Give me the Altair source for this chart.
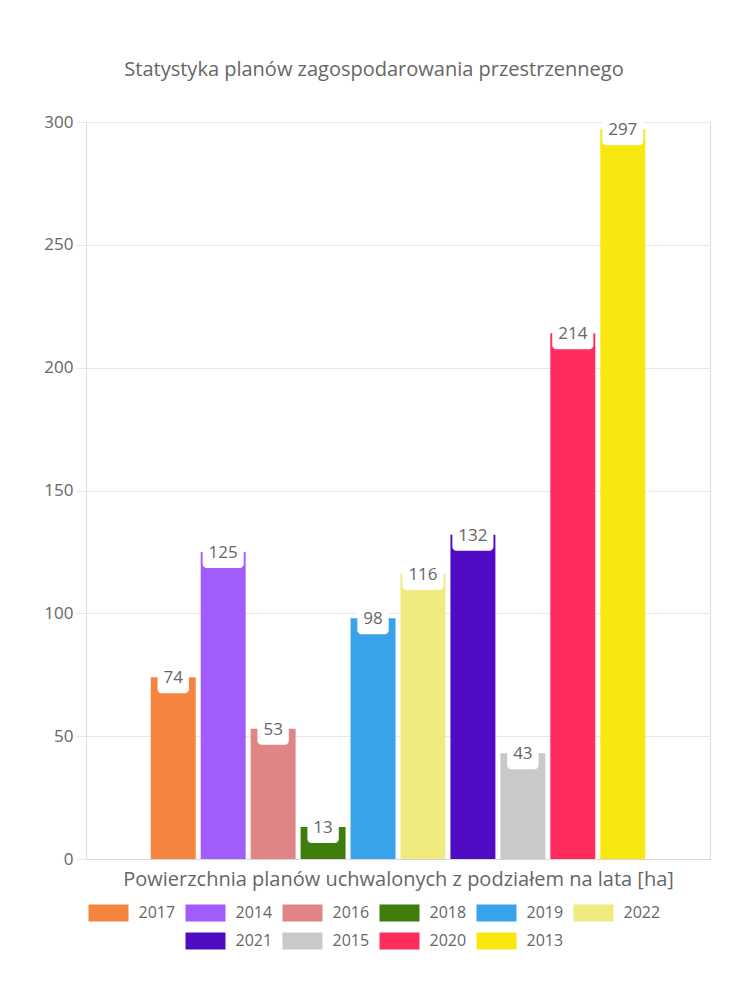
import altair as alt
import pandas as pd

years = ["2017", "2014", "2016", "2018", "2019", "2022", "2021", "2015", "2020", "2013"]
values = [74, 125, 53, 13, 98, 116, 132, 43, 214, 297]
colors = ["#F5843F", "#A25BFC", "#E08585", "#3F7D0D", "#38A2EB",
          "#F0EB7E", "#500CC4", "#C9C9CC", "#FF2C5E", "#F9E80F"]
title_text = "Statystyka planów zagospodarowania przestrzennego"
x_title = "Powierzchnia planów uchwalonych z podziałem na lata [ha]"
y_ticks = [0, 50, 100, 150, 200, 250, 300]

FONT = "Open Sans"
TXT = "#666666"
GRID = "#e8e8e8"

df = pd.DataFrame({"year": years, "value": values})
dfl = pd.DataFrame({"year": years})

color_enc = alt.Color("year:N", scale=alt.Scale(domain=years, range=colors), legend=None)

x_axis = alt.Axis(labels=False, ticks=False, domainColor="#d6d6d6", grid=False,
                  title=x_title, titleFontSize=20, titleColor=TXT,
                  titleFontWeight="normal", titlePadding=10, titleFont=FONT)
y_axis = alt.Axis(values=y_ticks, grid=True, gridColor=GRID, tickColor=GRID,
                  tickSize=10, domainColor="#dedede", labelFontSize=17,
                  labelColor=TXT, labelPadding=3, labelFont=FONT,
                  minExtent=73, maxExtent=73, title=None)

x_enc = alt.X("grp:N", scale=alt.Scale(paddingInner=0, paddingOuter=0.131), axis=x_axis)
xo_enc = alt.XOffset("year:N", sort=years, scale=alt.Scale(paddingInner=0.1, paddingOuter=0))
y_scale = alt.Scale(domain=[0, 300], nice=False)

base = alt.Chart(df).transform_calculate(grp="'all'")

bars = base.mark_bar().encode(
    x=x_enc,
    xOffset=xo_enc,
    y=alt.Y("value:Q", scale=y_scale, axis=y_axis),
    color=color_enc,
)

boxes = base.transform_calculate(
    top="datum.value + 5.3",
    bot="datum.value - 6.5",
    bw="length(toString(datum.value)) * 9.7 + 12",
).mark_bar(color="white", cornerRadius=4).encode(
    x=x_enc,
    xOffset=xo_enc,
    y=alt.Y("top:Q", scale=y_scale, axis=y_axis),
    y2="bot:Q",
    size=alt.Size("bw:Q", scale=None),
)

labels = base.mark_text(baseline="middle", fontSize=17, color=TXT, dy=1, font=FONT).encode(
    x=x_enc,
    xOffset=xo_enc,
    y=alt.Y("value:Q", scale=y_scale, axis=y_axis),
    text="value:Q",
)

main = alt.layer(bars, boxes, labels)

leg = alt.Chart(dfl).transform_window(idx="row_number()").transform_calculate(
    row="datum.idx <= 6 ? 0 : 1",
    col="datum.idx <= 6 ? datum.idx - 1 : datum.idx - 6",
)
legx = alt.X("col:Q", scale=alt.Scale(domain=[0, 1], range=[22.5, 119.5], nice=False, zero=False), axis=None)
legy = alt.Y("row:Q", scale=alt.Scale(domain=[0, 1], range=[791, 819], nice=False, zero=False), axis=None)

syms = leg.mark_point(shape="M-1,-0.425H1V0.425H-1Z", size=1600, filled=True,
                      opacity=1, strokeWidth=0).encode(x=legx, y=legy, color=color_enc)
legtxt = leg.mark_text(align="left", baseline="middle", dx=30, fontSize=16,
                       color=TXT, font=FONT).encode(x=legx, y=legy, text="year:N")

legend = alt.layer(syms, legtxt)

chart = alt.layer(main, legend).resolve_scale(
    x="independent", y="independent"
).properties(
    width=624,
    height=737,
    title=alt.TitleParams(title_text, fontSize=20, color=TXT, font=FONT,
                          fontWeight="normal", offset=33, frame="group", dx=-24),
    padding={"left": 5, "top": 52, "right": 5, "bottom": 5},
).configure_view(stroke="#e6e6e6").configure(font=FONT)

chart.save("out.html", embed_options={"renderer": "svg", "actions": False})
